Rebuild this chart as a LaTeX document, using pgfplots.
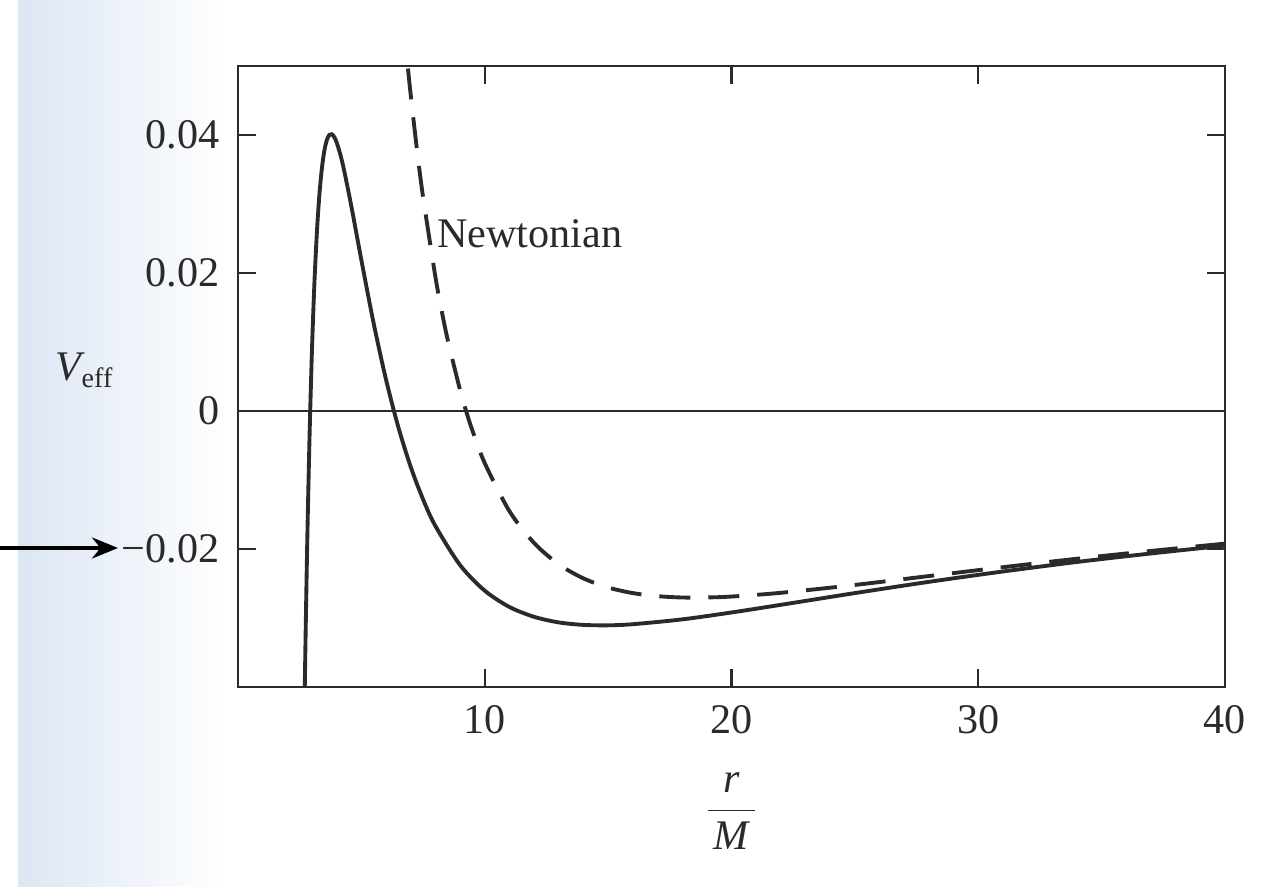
\documentclass[border=0pt]{standalone}
\usepackage{amsmath}
\usepackage{fontspec}
\setmainfont{Liberation Serif}
\usepackage{pgfplots}
\pgfplotsset{compat=1.18}
\usetikzlibrary{arrows.meta}

\definecolor{ink}{HTML}{2A2A2A}
\definecolor{scantint}{HTML}{DCE6F4}

% V_eff for l/M = 4.3 (values per r/M)
\pgfplotstableread{
r      V
2.60  -0.0690
2.70  -0.0416
2.80  -0.0202
2.90  -0.00367
3.00   0.00908
3.10   0.01878
3.20   0.02606
3.30   0.03140
3.40   0.03518
3.50   0.03773
3.60   0.03926
3.70   0.04001
3.80   0.04011
3.90   0.03971
4.00   0.03890
4.15   0.03714
4.30   0.03488
4.60   0.02956
5.00   0.02188
5.50   0.01267
6.00   0.00454
6.50  -0.00236
7.00  -0.00810
7.50  -0.01280
8.00  -0.01666
9.00  -0.02233
10.0  -0.02604
11.0  -0.02840
12.0  -0.02983
13.0  -0.03064
14.0  -0.03100
15.0  -0.03106
16.0  -0.03090
18.0  -0.03020
20.0  -0.02920
22.0  -0.02809
25.0  -0.02639
28.0  -0.02476
31.0  -0.02326
34.0  -0.02188
37.0  -0.02065
40.0  -0.01951
}\gr

\pgfplotstableread{
r      V
6.70   0.0567
6.90   0.04925
7.00   0.0458
7.25   0.03796
7.50   0.03103
8.00   0.01945
8.25   0.01462
8.50   0.01031
9.00   0.00303
9.25  -0.00006
9.50  -0.00282
10.0  -0.00755
11.0  -0.01451
12.0  -0.01913
13.0  -0.02222
14.0  -0.02426
15.0  -0.02558
16.0  -0.02639
17.0  -0.02683
18.0  -0.02703
19.0  -0.02702
20.0  -0.02689
22.0  -0.02635
25.0  -0.02521
28.0  -0.02392
31.0  -0.02264
34.0  -0.02141
37.0  -0.02028
40.0  -0.01922
}\newt

\begin{document}
\fontsize{12}{14.4}\selectfont
\begin{tikzpicture}
\path[use as bounding box] (-23.8mm,-19.9mm) rectangle (102.9mm,68.7mm);
\shade[left color=scantint, right color=white] (-22mm,-19.9mm) rectangle (-1mm,68.7mm);
\begin{axis}[
  at={(0,0)}, anchor=south west,
  scale only axis, width=98.7mm, height=62.1mm,
  xmin=0, xmax=40, ymin=-0.04, ymax=0.05,
  axis line style={ink, line width=0.6pt},
  xtick={10,20,30,40}, xticklabels={10,20,30,40},
  ytick={-0.02,0,0.02,0.04}, yticklabels={−0.02,0,0.02,0.04},
  scaled y ticks=false,
  tick align=inside, xtick pos=both, ytick pos=both,
  xticklabel pos=lower, yticklabel pos=left,
  major tick length=1.8mm,
  tick style={ink, line width=0.6pt},
  ticklabel style={text=ink},
  yticklabel style={xshift=-0.4mm},
  xticklabel style={yshift=-0.4mm},
  clip mode=individual,
]
\addplot[ink, line width=0.6pt] coordinates {(0,0) (40,0)};
\addplot[ink, line width=1.1pt, smooth] table[x=r, y=V] {\gr};
\addplot[ink, line width=1.1pt, smooth, dash pattern=on 3.1mm off 1.8mm] table[x=r, y=V] {\newt};
\node[anchor=west, text=ink, inner sep=0pt] at (axis cs:8.05,0.0257) {Newtonian};
\node[text=ink] at (axis description cs:-0.155,0.51) {$\textit{V}_{\text{eff}}$};
\node[text=ink] at (axis description cs:0.5,-0.2) {$\dfrac{\textit{r}\rule[-1mm]{0pt}{0pt}}{\rule{0pt}{3.0mm}\kern0.6mm\textit{M}\kern0.6mm}$};
\end{axis}
\draw[black, line width=1.1pt, -{Stealth[length=2.6mm, width=2.1mm]}] (-23.8mm,13.9mm) -- (-12mm,13.9mm);
\end{tikzpicture}
\end{document}
